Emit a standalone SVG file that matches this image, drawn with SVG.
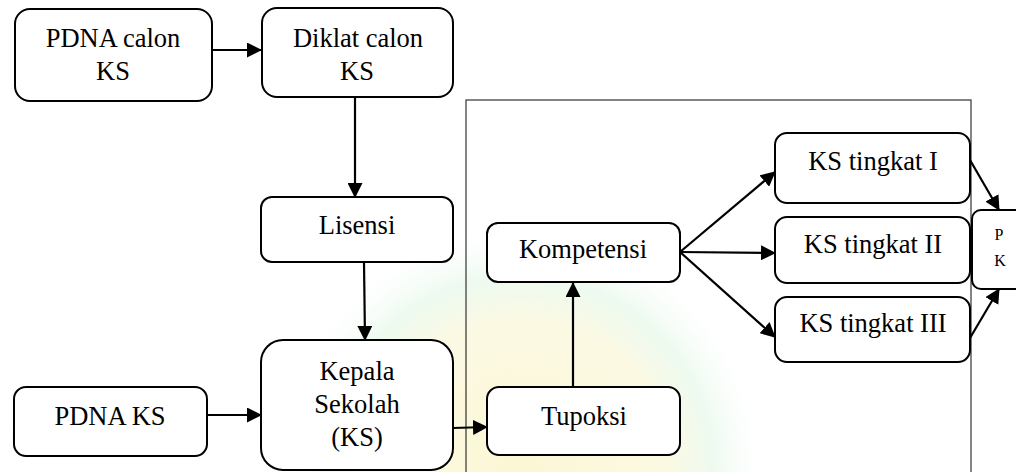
<svg xmlns="http://www.w3.org/2000/svg" width="1016" height="472" viewBox="0 0 1016 472">
<defs>
<style>
.box{fill:#fff;stroke:#000;stroke-width:2}
.t{font-family:'Liberation Serif','DejaVu Serif',serif;font-size:26.5px;fill:#000;text-anchor:middle}
.s{font-family:'Liberation Serif','DejaVu Serif',serif;font-size:16px;fill:#000;text-anchor:middle}
.c{stroke:#000;stroke-width:2.2;fill:none;marker-end:url(#ah)}
</style>
<marker id="ah" viewBox="0 0 15 15" refX="14" refY="7.5" markerWidth="15" markerHeight="15" markerUnits="userSpaceOnUse" orient="auto">
<path d="M0,0 L15,7.5 L0,15 Z" fill="#000"/>
</marker>
<radialGradient id="wm" cx="0.5" cy="0.5" r="0.5">
<stop offset="0" stop-color="#fbf6d0" stop-opacity="0.9"/>
<stop offset="0.6" stop-color="#fbf8dc" stop-opacity="0.8"/>
<stop offset="0.78" stop-color="#e2f7e6" stop-opacity="0.6"/>
<stop offset="1" stop-color="#ffffff" stop-opacity="0"/>
</radialGradient>
</defs>
<rect width="1016" height="472" fill="#fff"/>
<circle cx="520" cy="470" r="250" fill="url(#wm)"/>
<rect id="frame" x="466" y="100" width="505" height="390" fill="none" stroke="#333" stroke-width="1.2"/>

<g id="connectors">
<line class="c" x1="212" y1="50" x2="261" y2="50"/>
<line class="c" x1="355" y1="97" x2="355" y2="197"/>
<line class="c" x1="364" y1="262" x2="365" y2="340"/>
<line class="c" x1="207" y1="415" x2="261" y2="415"/>
<line class="c" x1="453" y1="428" x2="487" y2="427"/>
<line class="c" x1="573" y1="387" x2="573" y2="283"/>
<line class="c" x1="680" y1="252" x2="775" y2="172"/>
<line class="c" x1="680" y1="252" x2="775" y2="253"/>
<line class="c" x1="680" y1="252" x2="775" y2="337"/>
<line class="c" x1="970" y1="160" x2="999" y2="210"/>
<line class="c" x1="970" y1="338" x2="999" y2="289"/>
</g>

<g id="pdna-calon">
<rect class="box" x="15" y="9" width="197" height="92" rx="15"/>
<text class="t" x="113" y="47">PDNA calon</text>
<text class="t" x="113" y="80">KS</text>
</g>
<g id="diklat">
<rect class="box" x="262" y="8" width="191" height="89" rx="15"/>
<text class="t" x="358" y="47">Diklat calon</text>
<text class="t" x="357" y="80">KS</text>
</g>
<g id="lisensi">
<rect class="box" x="261" y="197" width="192" height="65" rx="11"/>
<text class="t" x="357" y="234">Lisensi</text>
</g>
<g id="kepala">
<rect class="box" x="261" y="340" width="192" height="130" rx="22"/>
<text class="t" x="357" y="380">Kepala</text>
<text class="t" x="357" y="413">Sekolah</text>
<text class="t" x="357" y="446">(KS)</text>
</g>
<g id="pdna-ks">
<rect class="box" x="14" y="387" width="193" height="69" rx="12"/>
<text class="t" x="110" y="425">PDNA KS</text>
</g>
<g id="tupoksi">
<rect class="box" x="487" y="387" width="193" height="68" rx="12"/>
<text class="t" x="584" y="425">Tupoksi</text>
</g>
<g id="kompetensi">
<rect class="box" x="487" y="223" width="193" height="59" rx="11"/>
<text class="t" x="583" y="258">Kompetensi</text>
</g>
<g id="ks1">
<rect class="box" x="775" y="133" width="195" height="70" rx="12"/>
<text class="t" x="873" y="170">KS tingkat I</text>
</g>
<g id="ks2">
<rect class="box" x="775" y="217" width="195" height="66" rx="12"/>
<text class="t" x="873" y="253">KS tingkat II</text>
</g>
<g id="ks3">
<rect class="box" x="775" y="297" width="195" height="65" rx="12"/>
<text class="t" x="873" y="332">KS tingkat III</text>
</g>
<g id="pk">
<rect class="box" x="972" y="210" width="60" height="79" rx="9"/>
<text class="s" x="999" y="240">P</text>
<text class="s" x="1000" y="266">K</text>
</g>
</svg>
